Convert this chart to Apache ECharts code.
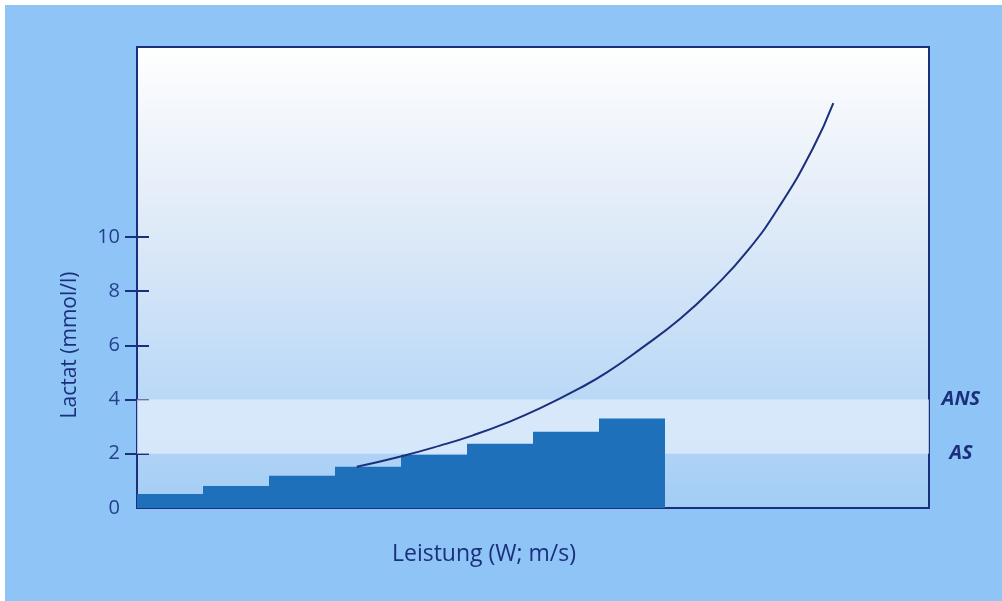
<!DOCTYPE html>
<html><head><meta charset="utf-8">
<script src="https://cdn.jsdelivr.net/npm/echarts@6/dist/echarts.min.js"></script>
<style>
html,body{margin:0;padding:0;background:#ffffff;width:1002px;height:601px;overflow:hidden}
#c{position:absolute;left:5px;top:5px;width:997px;height:596px}
</style></head><body><div id="c"></div>
<script>
// step categories (load stages)
const stages = ['1','2','3','4','5','6','7','8','9','10','11','12'];
// lactate per stage (bars)
const stageLactate = [0.52, 0.81, 1.19, 1.52, 1.96, 2.37, 2.81, 3.30, '-', '-', '-', '-'];
// lactate curve: [load position, lactate]
const curveX = [3.33, 3.98, 4.59, 5.09, 5.61, 6.11, 6.71, 7.12, 7.62, 8.23, 8.73, 9.24, 9.74, 10.24, 10.55];
const curveY = [1.52, 1.89, 2.30, 2.68, 3.15, 3.68, 4.42, 5.00, 5.85, 6.98, 8.10, 9.45, 11.15, 13.26, 14.93];
const yTicks = [0, 2, 4, 6, 8, 10];
const yTickMarks = [2, 4, 6, 8, 10];
const thresholds = [{name:'ANS', value:4}, {name:'AS', value:2}];
const band = [2, 4];

const navy = '#1b2f7c';
const chart = echarts.init(document.getElementById('c'));
const font = '"Open Sans", "Noto Sans", sans-serif';
chart.setOption({
  backgroundColor: '#8fc4f6',
  animation: false,
  grid: {
    left: 132, right: 73, top: 42, bottom: 93,
    show: true, borderColor: navy, borderWidth: 2,
    backgroundColor: {type:'linear', x:0, y:0, x2:0, y2:1, colorStops:[
      {offset:0, color:'#ffffff'}, {offset:0.35, color:'#e2ecf8'}, {offset:1, color:'#a3cdf5'}
    ]}
  },
  xAxis: [
    {type:'category', data: stages, boundaryGap: true,
     axisLine:{lineStyle:{color:navy, width:2}}, axisTick:{show:false}, axisLabel:{show:false}},
    {type:'value', min:0, max:12, show:false}
  ],
  yAxis: [
    {type:'value', min:0, max:17, interval:1, offset:-12,
     axisLine:{show:false},
     axisTick:{show:true, length:24, lineStyle:{color:navy, width:2}, customValues: yTickMarks},
     axisLabel:{customValues: yTicks, color:'#253f8f', fontSize:20, fontFamily:font, margin:29},
     splitLine:{show:false}}
  ],
  series: [
    {type:'bar', xAxisIndex:0, yAxisIndex:0, data: stageLactate, barWidth:'100%', barCategoryGap:0,
     itemStyle:{color:'#1f70bb'}, z:3,
     markArea:{silent:true, itemStyle:{color:'rgba(226,238,251,0.75)'}, data:[[{yAxis:band[0]},{yAxis:band[1]}]]},
     markLine:{silent:true, symbol:'none', lineStyle:{color:'rgba(0,0,0,0)', width:0},
       label:{show:true, position:'end', distance:32, align:'center', color:navy, fontSize:20, fontWeight:'bold', fontStyle:'italic', fontFamily:font,
              formatter: p => p.name},
       data: thresholds.map(t => ({name:t.name, yAxis:t.value}))}
    },
    {type:'line', xAxisIndex:1, yAxisIndex:0, smooth:true, symbol:'none', z:4,
     lineStyle:{color:navy, width:2}, data: curveX.map((x,i)=>[x, curveY[i]])}
  ],
  graphic: [
    {type:'text', x:479, y:549, style:{text:'Leistung (W; m/s)', fill:navy, fontSize:23, fontFamily:font,
      align:'center', verticalAlign:'middle'}},
    {type:'text', rotation:Math.PI/2, x:65, y:340, style:{text:'Lactat (mmol/l)', fill:navy, fontSize:21, fontFamily:font,
      align:'center', verticalAlign:'middle'}}
  ]
});
</script></body></html>
